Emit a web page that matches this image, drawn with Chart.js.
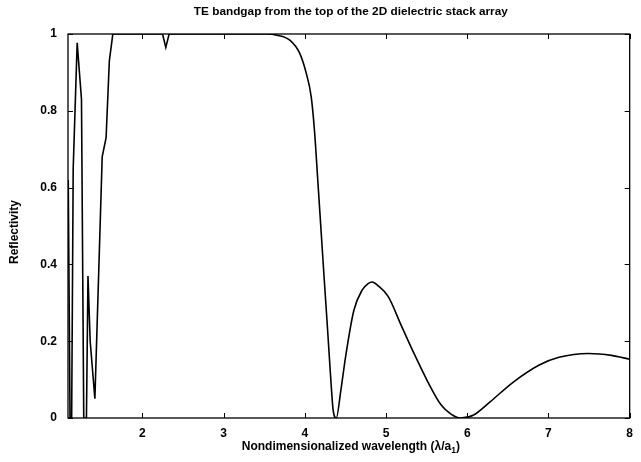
<!DOCTYPE html>
<html>
<head>
<meta charset="utf-8">
<script src="https://cdn.jsdelivr.net/npm/chart.js@4.4.1/dist/chart.umd.min.js"></script>
<style>
  html, body { margin: 0; padding: 0; background: #fff; }
  #wrap { width: 641px; height: 462px; }
</style>
</head>
<body>
<div id="wrap"><canvas id="bandChart" width="641" height="462"></canvas></div>
<script>
// short-wavelength part, jagged (straight segments)
const wavelengthShort = [1.088, 1.11, 1.13, 1.149, 1.198, 1.251, 1.279, 1.312, 1.331, 1.358,
  1.416, 1.506, 1.554, 1.594, 1.637, 2.0, 2.249, 2.289, 2.33, 3.0];
const reflectShort = [0.62, 0.0, 0.0, 0.65, 0.977, 0.83, 0.0, 0.0, 0.37, 0.2,
  0.05, 0.68, 0.73, 0.93, 1.0, 1.0, 1.0, 0.965, 1.0, 1.0];

// long-wavelength part, smooth
const wavelengthLong = [3.0, 3.533, 3.655, 3.816, 3.937, 4.018, 4.079, 4.119, 4.16, 4.2,
  4.24, 4.281, 4.321, 4.349, 4.388, 4.443, 4.503, 4.604, 4.706, 4.78,
  4.83, 4.9, 5.028, 5.19, 5.352, 5.513, 5.675, 5.8, 5.918, 6.079,
  6.281, 6.564, 6.887, 7.13, 7.493, 7.776, 8.0];
const reflectLong = [1.0, 1.0, 0.997, 0.984, 0.95, 0.898, 0.837, 0.75, 0.62, 0.49,
  0.36, 0.23, 0.099, 0.021, 0.0, 0.07, 0.16, 0.28, 0.333, 0.35,
  0.354, 0.345, 0.316, 0.24, 0.165, 0.095, 0.035, 0.01, 0.0, 0.008,
  0.042, 0.093, 0.138, 0.158, 0.168, 0.163, 0.153];

const xTicks = [2, 3, 4, 5, 6, 7, 8];
const yTicks = [0, 0.2, 0.4, 0.6, 0.8, 1];

const titleText = 'TE bandgap from the top of the 2D dielectric stack array';
const xLabel = 'Nondimensionalized wavelength (\u03bb/a';
const yLabel = 'Reflectivity';
const FONT = '"Liberation Sans", Arial, sans-serif';

const toPoints = (xs, ys) => xs.map((w, i) => ({ x: w, y: ys[i] }));

// box, inward ticks and the text labels (matlab look)
const frame = {
  id: 'frame',
  afterDraw(chart) {
    const ctx = chart.ctx;
    const a = chart.chartArea;
    const sx = chart.scales.x, sy = chart.scales.y;
    ctx.save();
    ctx.strokeStyle = '#000';
    ctx.lineWidth = 1.3;
    ctx.strokeRect(a.left, a.top, a.right - a.left, a.bottom - a.top);
    ctx.lineWidth = 1;
    ctx.beginPath();
    xTicks.forEach(v => {
      const px = Math.round(sx.getPixelForValue(v)) + 0.5;
      ctx.moveTo(px, a.bottom); ctx.lineTo(px, a.bottom - 5);
      ctx.moveTo(px, a.top); ctx.lineTo(px, a.top + 5);
    });
    yTicks.forEach(v => {
      const py = Math.round(sy.getPixelForValue(v)) + 0.5;
      ctx.moveTo(a.left, py); ctx.lineTo(a.left + 5, py);
      ctx.moveTo(a.right, py); ctx.lineTo(a.right - 5, py);
    });
    ctx.stroke();

    ctx.fillStyle = '#000';
    const cx = (a.left + a.right) / 2 + 2;
    ctx.font = 'bold 11.8px ' + FONT;
    ctx.textAlign = 'center';
    ctx.textBaseline = 'middle';
    ctx.fillText(titleText, cx, 12);

    // x label with subscript 1
    ctx.font = 'bold 12px ' + FONT;
    const w1 = ctx.measureText(xLabel).width;
    const w3 = ctx.measureText(')').width;
    ctx.font = 'bold 8.5px ' + FONT;
    const w2 = ctx.measureText('1').width;
    const x0 = cx - (w1 + w2 + w3) / 2;
    ctx.textAlign = 'left';
    ctx.font = 'bold 12px ' + FONT;
    ctx.fillText(xLabel, x0, 447);
    ctx.fillText(')', x0 + w1 + w2, 447);
    ctx.font = 'bold 8.5px ' + FONT;
    ctx.fillText('1', x0 + w1, 451);

    ctx.font = 'bold 12px ' + FONT;
    ctx.translate(15, (a.top + a.bottom) / 2 + 6);
    ctx.rotate(-Math.PI / 2);
    ctx.textAlign = 'center';
    ctx.fillText(yLabel, 0, 0);
    ctx.restore();
  }
};

new Chart(document.getElementById('bandChart'), {
  type: 'line',
  data: {
    datasets: [{
      data: toPoints(wavelengthShort, reflectShort),
      borderColor: '#000',
      borderWidth: 1.6,
      pointRadius: 0,
      fill: false,
      tension: 0
    }, {
      data: toPoints(wavelengthLong, reflectLong),
      borderColor: '#000',
      borderWidth: 1.6,
      pointRadius: 0,
      fill: false,
      cubicInterpolationMode: 'monotone'
    }]
  },
  options: {
    responsive: false,
    animation: false,
    layout: { padding: { left: 0, right: 3, top: 34, bottom: 0 } },
    plugins: { legend: { display: false }, tooltip: { enabled: false } },
    scales: {
      x: {
        type: 'linear',
        min: 1.085,
        max: 8,
        afterBuildTicks: s => { s.ticks = xTicks.map(v => ({ value: v })); },
        afterFit: s => { s.height = 44; },
        grid: { display: false, drawTicks: false },
        border: { display: false },
        ticks: {
          color: '#000',
          padding: 8,
          font: { family: FONT, size: 12, weight: 'bold' },
          maxRotation: 0
        }
      },
      y: {
        min: 0,
        max: 1,
        afterBuildTicks: s => { s.ticks = yTicks.map(v => ({ value: v })); },
        afterFit: s => { s.width = 68; },
        grid: { display: false, drawTicks: false },
        border: { display: false },
        ticks: {
          color: '#000',
          padding: 11,
          font: { family: FONT, size: 12, weight: 'bold' },
          callback: v => String(v)
        }
      }
    }
  },
  plugins: [frame]
});
</script>
</body>
</html>
